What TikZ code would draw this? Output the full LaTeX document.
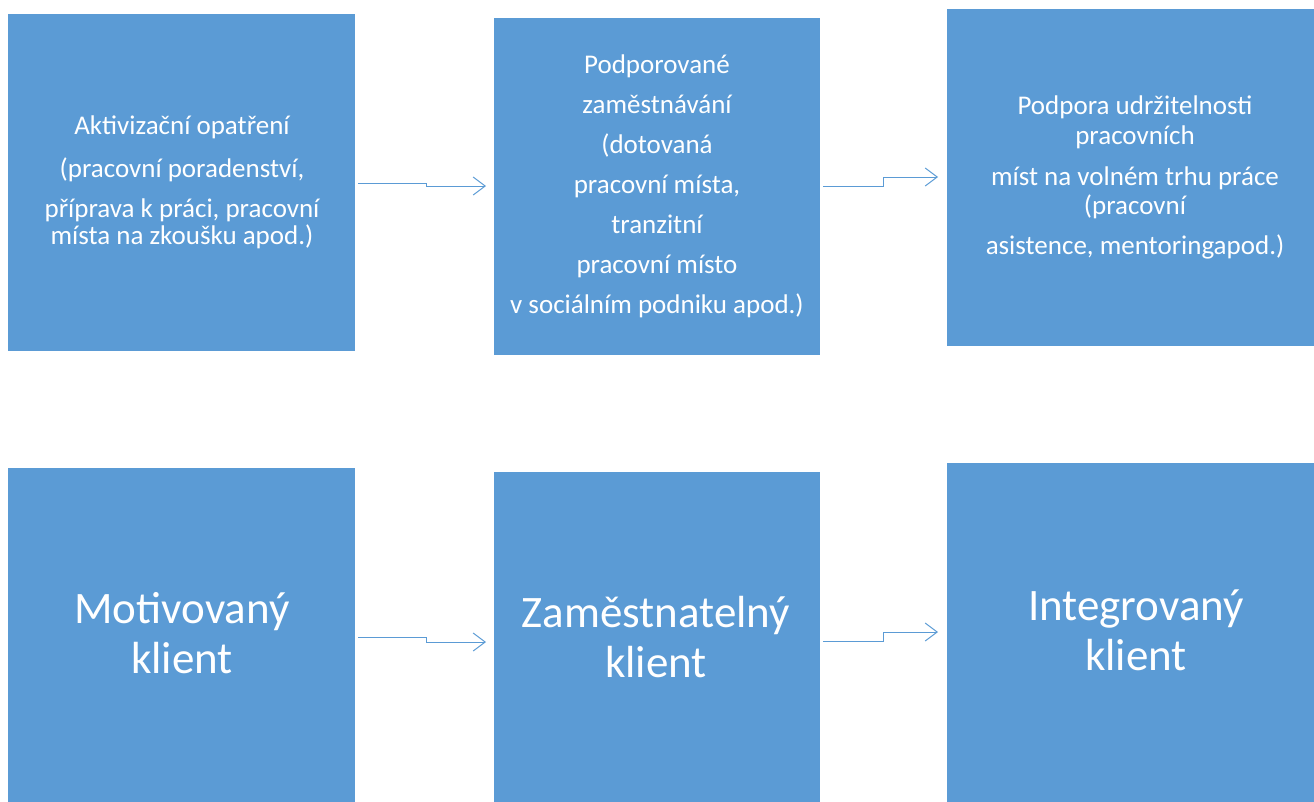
\documentclass[tikz,border=0pt]{standalone}
\usepackage{fontspec}
\setmainfont{Carlito}
\usetikzlibrary{arrows.meta}
\definecolor{boxblue}{HTML}{5B9BD5}
\tikzset{
  x=1pt, y=-1pt,
  boxfill/.style={fill=boxblue, draw=none, inner sep=0pt},
  smalltxt/.style={text=white, align=center, font=\fontsize{27}{40}\selectfont, inner sep=0pt},
  bigtxt/.style={text=white, align=center, font=\fontsize{45}{50}\selectfont, inner sep=0pt},
  conn/.style={draw=boxblue, line width=1pt, -{Straight Barb[length=12pt,width=18pt,line width=1pt]}}
}
\begin{document}
\begin{tikzpicture}
\useasboundingbox (0,0) rectangle (1314,801);
% top boxes
\path[boxfill] (8,13.5) rectangle (355,351) node[midway] (b1) {};
\path[boxfill] (494,18) rectangle (820,355) node[midway] (b2) {};
\path[boxfill] (947,8.5) rectangle (1320,346) node[midway] (b3) {};
% bottom boxes
\path[boxfill] (8,468) rectangle (355,810) node[midway] (b4) {};
\path[boxfill] (494,472) rectangle (820,810) node[midway] (b5) {};
\path[boxfill] (947,463) rectangle (1320,810) node[midway] (b6) {};

\node[smalltxt] (t1) at (182,182) {Aktivizační opatření\\[3pt](pracovní poradenství,\\příprava k práci, pracovní\\[-13pt]místa na zkoušku apod.)};
\node[smalltxt] (t2) at (657,186.5) {Podporované\\zaměstnávání\\(dotovaná\\pracovní místa,\\tranzitní\\pracovní místo\\v sociálním podniku apod.)};
\node[smalltxt] (t3) at (1135,177) {Podpora udržitelnosti\\[-10pt]pracovních\\[1pt]míst na volném trhu práce\\[-11pt](pracovní\\asistence, mentoringapod.)};

\node[bigtxt] (t4) at (182,633) {Motivovaný\\klient};
\node[bigtxt] (t5) at (656,637.5) {Zaměstnatelný\\klient};
\node[bigtxt] (t6) at (1136,630) {Integrovaný\\klient};

% connectors
\coordinate (s1) at (358,183); \coordinate (e1) at (486,186);
\coordinate (s2) at (823,186); \coordinate (e2) at (938,177);
\coordinate (s3) at (358,637); \coordinate (e3) at (486,642);
\coordinate (s4) at (823,641); \coordinate (e4) at (938,632);
\draw[conn] (s1) -- (426,183) -- (426,186) -- (e1);
\draw[conn] (s2) -- (883,186) -- (883,177) -- (e2);
\draw[conn] (s3) -- (426,637) -- (426,642) -- (e3);
\draw[conn] (s4) -- (883,641) -- (883,632) -- (e4);
\end{tikzpicture}
\end{document}
